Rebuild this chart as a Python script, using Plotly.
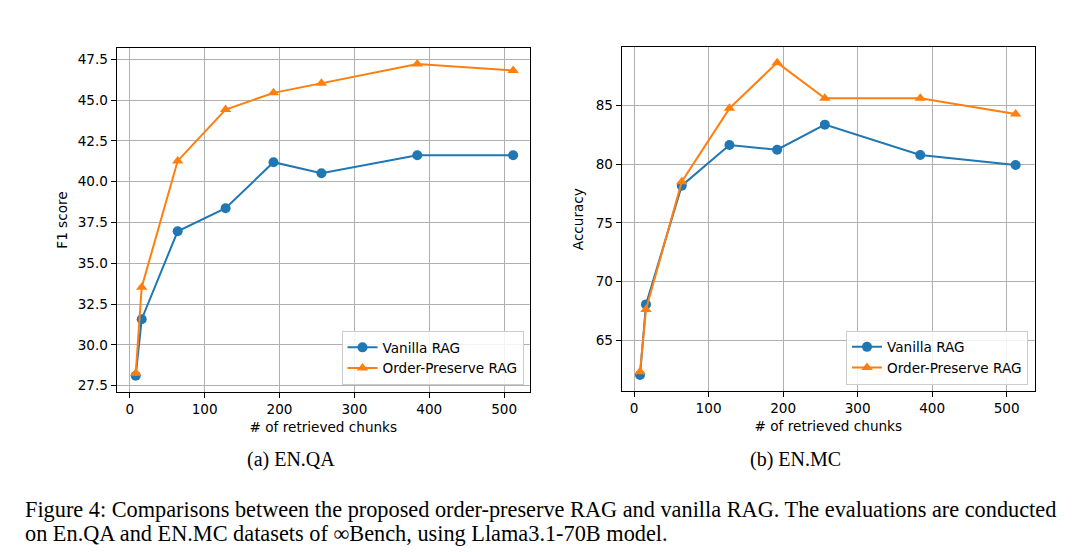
import plotly.graph_objects as go

chunks = [8, 16, 64, 128, 192, 256, 384, 512]
qa_vanilla = [28.11, 31.57, 36.96, 38.37, 41.19, 40.51, 41.62, 41.62]
qa_order = [28.26, 33.53, 41.27, 44.42, 45.44, 46.03, 47.21, 46.81]
mc_vanilla = [62.01, 68.04, 78.17, 81.64, 81.24, 83.38, 80.79, 79.94]
mc_order = [62.30, 67.61, 78.51, 84.77, 88.67, 85.63, 85.63, 84.29]

qa_ticks = [27.5, 30.0, 32.5, 35.0, 37.5, 40.0, 42.5, 45.0, 47.5]
mc_ticks = [65, 70, 75, 80, 85]
x_ticks = [0, 100, 200, 300, 400, 500]

BLUE = "#1f77b4"
ORANGE = "#ff7f0e"
TICKFONT = dict(family="DejaVu Sans", size=13.6, color="black")

# page has an 8px body margin; figure occupies pixels 8..1080 x 8..552
OFF = 8
W, H = 1080 - OFF, 552 - OFF


def px(xp):
    return (xp - OFF) / W


def py(yp):
    return 1 - (yp - OFF) / H


fig = go.Figure()


def add_pair(xa, ya, van, order, legend):
    fig.add_trace(go.Scatter(x=chunks, y=van, mode="lines+markers", name="Vanilla RAG",
                             line=dict(color=BLUE, width=2),
                             marker=dict(symbol="circle", size=10, color=BLUE),
                             xaxis=xa, yaxis=ya, legend=legend))
    fig.add_trace(go.Scatter(x=chunks, y=order, mode="lines+markers", name="Order-Preserve RAG",
                             line=dict(color=ORANGE, width=2),
                             marker=dict(symbol="triangle-up", size=10, color=ORANGE),
                             xaxis=xa, yaxis=ya, legend=legend))


add_pair("x", "y", qa_vanilla, qa_order, "legend")
add_pair("x2", "y2", mc_vanilla, mc_order, "legend2")

axis_common = dict(showline=True, linecolor="black", linewidth=1, mirror=True,
                   ticks="outside", ticklen=5, tickcolor="black", tickwidth=1,
                   showgrid=True, gridcolor="#b0b0b0", gridwidth=1,
                   zeroline=False, tickfont=TICKFONT, automargin=False)

legend_common = dict(xanchor="right", yanchor="bottom",
                     bgcolor="rgba(255,255,255,0.85)", bordercolor="#cccccc", borderwidth=1,
                     font=dict(family="DejaVu Sans", size=13.6, color="black"), tracegroupgap=0)

fig.update_layout(
    width=W, height=H,
    margin=dict(l=0, r=0, t=0, b=0),
    paper_bgcolor="white", plot_bgcolor="white",
    xaxis=dict(domain=[px(116.7), px(530)], range=[-17.4, 534.5], tickvals=x_ticks,
               title=dict(text="# of retrieved chunks", font=TICKFONT, standoff=6), anchor="y", **axis_common),
    yaxis=dict(domain=[py(391.7), py(48.3)], range=[27.13, 48.17], tickvals=qa_ticks,
               ticktext=[f"{v:.1f}" for v in qa_ticks],
               title=dict(text="F1 score", font=TICKFONT, standoff=6), anchor="x", **axis_common),
    xaxis2=dict(domain=[px(621.7), px(1035)], range=[-16.6, 538], tickvals=x_ticks,
                title=dict(text="# of retrieved chunks", font=TICKFONT, standoff=6), anchor="y2", **axis_common),
    yaxis2=dict(domain=[py(391), py(47.3)], range=[60.65, 89.98], tickvals=mc_ticks,
                title=dict(text="Accuracy", font=TICKFONT, standoff=8), anchor="x2", **axis_common),
    legend=dict(x=px(523.5), y=py(385), **legend_common),
    legend2=dict(x=px(1028), y=py(384.5), **legend_common),
    showlegend=True,
)

serif = dict(family="Liberation Serif", size=20, color="black")
cap = dict(family="Liberation Serif", size=22.3, color="black")
fig.add_annotation(text="(a) EN.QA", x=px(290.5), y=py(459), xref="paper", yref="paper",
                   showarrow=False, xanchor="center", yanchor="middle", font=serif)
fig.add_annotation(text="(b) EN.MC", x=px(795), y=py(459), xref="paper", yref="paper",
                   showarrow=False, xanchor="center", yanchor="middle", font=serif)
fig.add_annotation(text="Figure 4: Comparisons between the proposed order-preserve RAG and vanilla RAG. The evaluations are conducted",
                   x=px(23), y=py(509), xref="paper", yref="paper",
                   showarrow=False, xanchor="left", yanchor="middle", font=cap)
fig.add_annotation(text="on En.QA and EN.MC datasets of \u221eBench, using Llama3.1-70B model.",
                   x=px(23), y=py(533), xref="paper", yref="paper",
                   showarrow=False, xanchor="left", yanchor="middle", font=cap)

fig.write_html("out.html")
